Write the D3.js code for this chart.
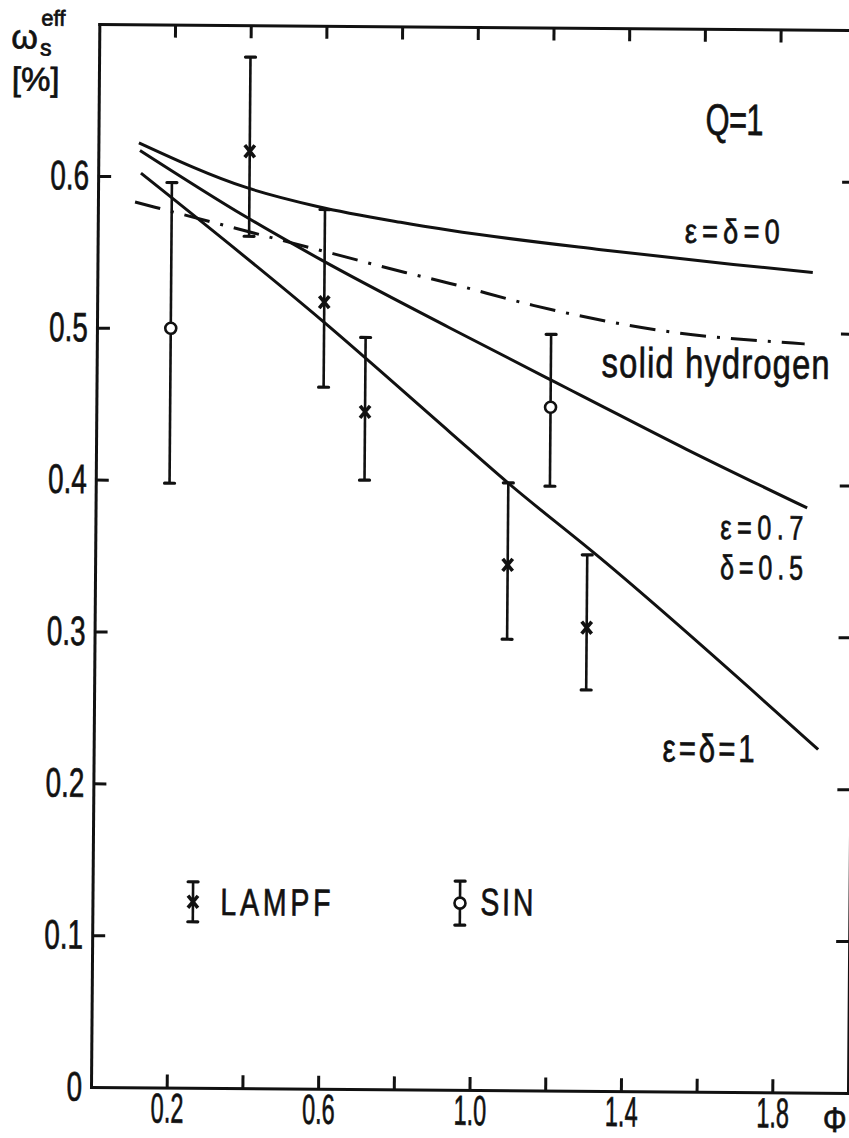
<!DOCTYPE html>
<html>
<head>
<meta charset="utf-8">
<script src="https://cdn.jsdelivr.net/npm/d3@7"></script>
<style>
  html, body { margin: 0; padding: 0; background: #fff; }
  svg { display: block; }
  text { font-family: "Liberation Sans", Arial, "DejaVu Sans", sans-serif; fill: #111; stroke: #111; stroke-width: 0.7px; }
</style>
</head>
<body>
<svg id="chart" width="849" height="1138"></svg>
<script>
// ---- axis ticks ----
const xTicks = [0.2, 0.4, 0.6, 0.8, 1.0, 1.2, 1.4, 1.6, 1.8];
const xTickLabels = [0.2, 0.6, 1.0, 1.4, 1.8];
const yTicks = [0, 0.1, 0.2, 0.3, 0.4, 0.5, 0.6];

// ---- theoretical curves: omega_s^eff [%] versus Phi, Q = 1 ----
const curveLabels = ["ε=δ=0", "ε=0.7 δ=0.5", "ε=δ=1", "solid hydrogen"];
const phiEps0 = [0.107, 0.393, 0.58, 0.80, 0.93, 1.33, 1.68, 1.89];
const wEps0   = [0.622, 0.593, 0.581, 0.571, 0.566, 0.554, 0.545, 0.540];
const phiEps07 = [0.110, 0.39, 0.59, 0.93, 1.20, 1.28, 1.56, 1.88];
const wEps07   = [0.617, 0.574, 0.546, 0.502, 0.468, 0.458, 0.423, 0.385];
const phiEps1 = [0.113, 0.594, 0.935, 1.089, 1.334, 1.914];
const wEps1   = [0.602, 0.506, 0.433, 0.400, 0.351, 0.226];
const phiSolid = [0.098, 0.622, 0.813, 0.932, 1.152, 1.522, 1.839, 1.87];
const wSolid   = [0.583, 0.550, 0.538, 0.531, 0.517, 0.500, 0.4935, 0.493];

// ---- measurements ----
const lampfPhi = [0.4, 0.6, 0.71, 1.09, 1.3];
const lampfW   = [0.617, 0.518, 0.446, 0.346, 0.305];
const lampfLo  = [0.561, 0.462, 0.401, 0.297, 0.264];
const lampfHi  = [0.679, 0.579, 0.495, 0.400, 0.353];
const sinPhi = [0.195, 1.2];
const sinW   = [0.500, 0.450];
const sinLo  = [0.398, 0.398];
const sinHi  = [0.596, 0.498];

const INK = "#111";
const svg = d3.select("#chart");

const x = d3.scaleLinear().domain([0, 2.0]).range([91, 848]);
const y = d3.scaleLinear().domain([0, 0.7]).range([1087, 24]);

// the printed figure sits very slightly tilted on the page
const g = svg.append("g").attr("transform", "rotate(0.45," + x(0) + "," + y(0) + ")");

// condensed text helper: horizontal squeeze, optional target width
function label(parent, str, px, py, size, sx, width, anchor) {
  const t = parent.append("text")
    .attr("transform", `translate(${px},${py}) scale(${sx},1)`)
    .attr("font-size", size)
    .attr("text-anchor", anchor || "start")
    .text(str);
  if (width) t.attr("textLength", width / sx).attr("lengthAdjust", "spacing");
  return t;
}

function styleAxis(sel) {
  sel.attr("font-family", null).attr("font-size", null);
  sel.select(".domain").attr("stroke", INK).attr("stroke-width", 3).attr("stroke-linecap", "square");
  sel.selectAll(".tick line").attr("stroke", INK).attr("stroke-width", 3);
}

const fmt = d3.format(".1f");

// bottom axis
const gx = g.append("g").attr("transform", `translate(0,${y(0)})`)
  .call(d3.axisBottom(x).tickValues(xTicks).tickSizeInner(-13).tickSizeOuter(0).tickPadding(0)
    .tickFormat(d => xTickLabels.some(v => Math.abs(v - d) < 1e-9) ? fmt(d) : ""));
styleAxis(gx);
gx.selectAll(".tick text").attr("y", 35).attr("dy", null)
  .attr("font-size", 42).attr("fill", INK).attr("transform", "scale(0.56,1)");

// top axis
const gt = g.append("g").attr("transform", `translate(0,${y(0.7)})`)
  .call(d3.axisTop(x).tickValues(xTicks).tickSizeInner(-13).tickSizeOuter(0).tickFormat(""));
styleAxis(gt);

// left axis
const ySx = 0.68;
const gy = g.append("g").attr("transform", `translate(${x(0)},0)`)
  .call(d3.axisLeft(y).tickValues(yTicks).tickSizeInner(-13).tickSizeOuter(0).tickPadding(9)
    .tickFormat(d => d === 0 ? "0" : fmt(d)));
styleAxis(gy);
gy.selectAll(".tick text").attr("x", -9 / ySx).attr("font-size", 41).attr("fill", INK)
  .attr("transform", `scale(${ySx},1)`);
gy.selectAll(".tick").filter(d => d === 0).select("line").remove();

// right axis
const gr = g.append("g").attr("transform", `translate(${x(2.0)},0)`)
  .call(d3.axisRight(y).tickValues(yTicks.filter(d => d > 0)).tickSizeInner(-13).tickSizeOuter(0).tickFormat(""));
styleAxis(gr);

// axis titles: omega_s^eff [%]
const title = g.append("g");
const omega = title.append("text").attr("font-size", 34);
omega.append("tspan").attr("x", 3).attr("y", 49).text("ω");
omega.append("tspan").attr("x", 32).attr("y", 56).attr("font-size", 23).text("s");
title.append("text").attr("x", 33).attr("y", 26).attr("font-size", 22).text("eff");
title.append("text").attr("x", 4).attr("y", 91).attr("font-size", 33).text("[%]");
label(g, "Φ", 835, 1126, 35, 0.85, null, "middle");

// curves
const line = d3.line().x(d => x(d[0])).y(d => y(d[1])).curve(d3.curveMonotoneX);
const curves = [
  { phi: phiEps0, w: wEps0, dash: null },
  { phi: phiEps07, w: wEps07, dash: null },
  { phi: phiEps1, w: wEps1, dash: null },
  { phi: phiSolid, w: wSolid, dash: "26,11,3,11" }
];
g.append("g").selectAll("path").data(curves).join("path")
  .attr("d", c => line(d3.zip(c.phi, c.w)))
  .attr("fill", "none")
  .attr("stroke", INK)
  .attr("stroke-width", 3)
  .attr("stroke-dasharray", c => c.dash);

// error bars
function errorBar(parent, px, lo, hi, yc, marker) {
  const eb = parent.append("g");
  eb.append("line").attr("x1", px).attr("x2", px).attr("y1", lo).attr("y2", hi)
    .attr("stroke", INK).attr("stroke-width", 2.6);
  [lo, hi].forEach(v => eb.append("line")
    .attr("x1", px - 5).attr("x2", px + 5).attr("y1", v).attr("y2", v)
    .attr("stroke", INK).attr("stroke-width", 3.2).attr("stroke-linecap", "round"));
  if (marker === "x") {
    eb.append("path")
      .attr("d", `M${px - 5},${yc - 6}L${px + 5},${yc + 6}M${px + 5},${yc - 6}L${px - 5},${yc + 6}`)
      .attr("stroke", INK).attr("stroke-width", 3.6).attr("fill", "none");
  } else {
    eb.append("circle").attr("cx", px).attr("cy", yc).attr("r", 5.5)
      .attr("fill", "#fff").attr("stroke", INK).attr("stroke-width", 2.6);
  }
}
const gd = g.append("g");
lampfPhi.forEach((p, i) => errorBar(gd, x(p), y(lampfLo[i]), y(lampfHi[i]), y(lampfW[i]), "x"));
sinPhi.forEach((p, i) => errorBar(gd, x(p), y(sinLo[i]), y(sinHi[i]), y(sinW[i]), "o"));

// legend
const gl = g.append("g");
errorBar(gl, x(0.2655), y(0.1225) + 20, y(0.1225) - 20, y(0.1225), "x");
label(gl, "LAMPF", 219, 914, 38, 0.75, 110);
errorBar(gl, x(0.971), y(0.123) + 22, y(0.123) - 22, y(0.123), "o");
label(gl, "SIN", 479, 912, 38, 0.75, 53);

// annotations
const ga = g.append("g");
label(ga, "Q = 1", 698, 130, 44, 0.7, 58);
label(ga, curveLabels[0], 678, 238, 34, 0.8, 95);
label(ga, curveLabels[3], 596, 373, 42, 0.78, 228);
label(ga, "ε=0.7", 716, 534, 34, 0.74, 83);
label(ga, "δ=0.5", 716, 574, 34, 0.74, 83);
label(ga, curveLabels[2], 660, 757, 39, 0.75, 92);
</script>
</body>
</html>
